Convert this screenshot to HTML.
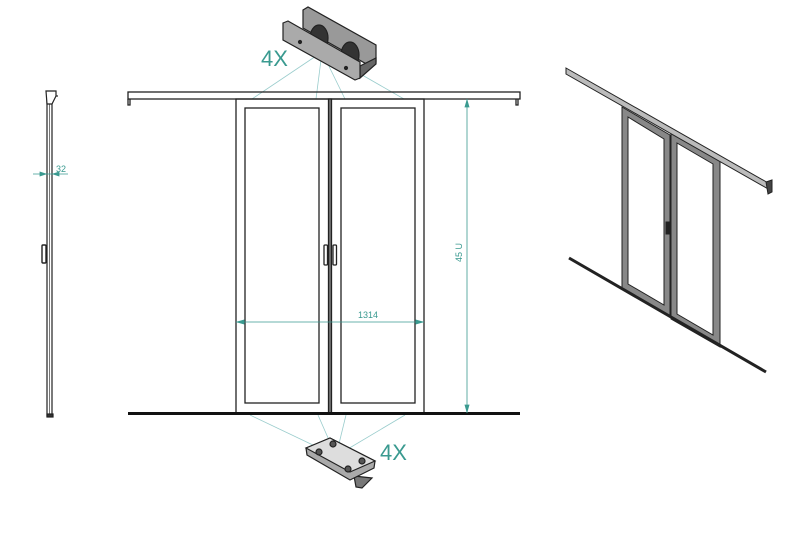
<!DOCTYPE html>
<html><head><meta charset="utf-8"><style>
html,body{margin:0;padding:0;background:#fff;}
svg{display:block;font-family:"Liberation Sans",sans-serif;}
</style></head><body>
<svg width="800" height="545" viewBox="0 0 800 545" xmlns="http://www.w3.org/2000/svg">
<!-- side view -->
<g stroke="#222" fill="none" stroke-width="1.2">
<rect x="47" y="93" width="5" height="323" fill="#fff"/>
<line x1="49.5" y1="100" x2="49.5" y2="414" stroke="#777" stroke-width="1"/>
<path d="M46 91 L56 91 L56 96 L52 104 L47 104 Z" fill="#fff"/>
<line x1="56" y1="96" x2="58" y2="96"/>
<rect x="42" y="245" width="4" height="18" rx="1" stroke-width="1.4"/>
<rect x="47" y="414" width="6" height="3" fill="#333"/>
</g>
<g stroke="#3a9a90" stroke-width="0.8" fill="#3a9a90">
<line x1="33" y1="174" x2="68" y2="174"/>
<path d="M46 174 L40 172 L40 176Z"/><path d="M53 174 L59 172 L59 176Z"/>
</g>
<text x="56" y="172" font-size="9" fill="#3a9a90">32</text>

<!-- front view -->
<g stroke="#9cc" stroke-width="0.8">
<line x1="322" y1="52" x2="252" y2="99"/><line x1="322" y1="52" x2="316" y2="99"/>
<line x1="322" y1="52" x2="345" y2="99"/><line x1="322" y1="52" x2="404" y2="99"/>
<line x1="250" y1="415" x2="336" y2="456"/><line x1="318" y1="415" x2="336" y2="456"/>
<line x1="346" y1="415" x2="336" y2="456"/><line x1="405" y1="415" x2="336" y2="456"/>
</g>
<g stroke="#222" fill="none" stroke-width="1.3">
<rect x="128" y="92" width="392" height="7"/>
<path d="M128 99 v6 h2 v-6"/>
<path d="M518 99 v6 h-2 v-6"/>
<rect x="236" y="99" width="188" height="314"/>
<rect x="245" y="108" width="74" height="295"/>
<rect x="341" y="108" width="74" height="295"/>
<rect x="328.5" y="99" width="3" height="314" fill="#777"/>
<rect x="324" y="245" width="3.5" height="20" rx="1"/>
<rect x="333" y="245" width="3.5" height="20" rx="1"/>
</g>
<rect x="128" y="412" width="392" height="3" fill="#111"/>
<g stroke="#3a9a90" stroke-width="0.8" fill="#3a9a90">
<line x1="236" y1="322" x2="424" y2="322"/>
<path d="M237 322 L244 320 L244 324Z"/><path d="M423 322 L416 320 L416 324Z"/>
<line x1="467" y1="99" x2="467" y2="413"/>
<path d="M467 100 L465 107 L469 107Z"/><path d="M467 412 L465 405 L469 405Z"/>
</g>
<text x="368" y="318" font-size="9" fill="#3a9a90" text-anchor="middle">1314</text>
<text x="0" y="0" font-size="9" fill="#3a9a90" transform="translate(462,262) rotate(-90)">45 U</text>

<!-- top roller -->
<g stroke="#222" stroke-width="1.2">
<path d="M303 10 L308 7 L376 45 L376 62 L370 66 L303 28 Z" fill="#999"/>
<ellipse cx="319" cy="38" rx="9" ry="13" fill="#333"/>
<ellipse cx="350" cy="55" rx="9" ry="13" fill="#333"/>
<path d="M360 66 L376 58 L376 64 L360 78 Z" fill="#666"/>
<path d="M283 23 L288 21 L360 62 L360 78 L355 80 L283 40 Z" fill="#aaa"/>
<circle cx="300" cy="42" r="1.5" fill="#222"/><circle cx="346" cy="68" r="1.5" fill="#222"/>
</g>
<text x="261" y="66" font-size="22" fill="#3a9a90">4X</text>

<!-- bottom bracket -->
<g stroke="#222" stroke-width="1.2">
<path d="M354 476 L372 478 L362 488 L356 487Z" fill="#777"/>
<path d="M306 448 L330 438 L375 461 L374 468 L350 480 L307 455Z" fill="#aaa"/>
<path d="M306 448 L330 438 L375 461 L350 472Z" fill="#ddd"/>
<circle cx="319" cy="452" r="3" fill="#555"/><circle cx="333" cy="444" r="3" fill="#555"/>
<circle cx="348" cy="469" r="3" fill="#555"/><circle cx="362" cy="461" r="3" fill="#555"/>
</g>
<text x="380" y="460" font-size="22" fill="#3a9a90">4X</text>

<!-- iso view -->
<g stroke="#222" stroke-width="1">
<path d="M622 107 L670 135 L670 317 L622 289Z" fill="#888"/>
<path d="M628 117 L664 139 L664 305 L628 284Z" fill="#fff"/>
<path d="M671 131 L720 159 L720 347 L671 319Z" fill="#888"/>
<path d="M677 143 L713 164 L713 335 L677 314Z" fill="#fff"/>
<path d="M566 68 L770 184 L770 190 L566 74Z" fill="#bbb"/>
<path d="M766 182 L772 180 L772 192 L768 194Z" fill="#444"/>
<rect x="666" y="222" width="5" height="12" fill="#222"/>
</g>
<line x1="569" y1="258" x2="766" y2="372" stroke="#222" stroke-width="3"/>
</svg>
</body></html>
